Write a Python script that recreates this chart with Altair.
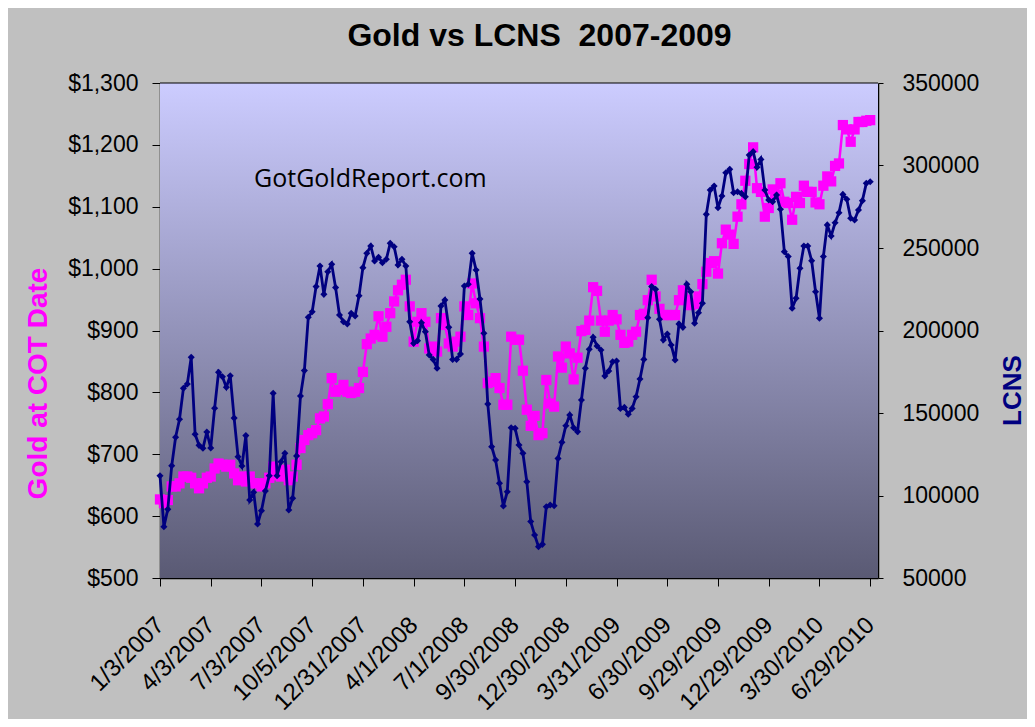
import altair as alt
import pandas as pd

# ---- data -----------------------------------------------------------------
x_labels = ["1/3/2007", "4/3/2007", "7/3/2007", "10/5/2007", "12/31/2007",
            "4/1/2008", "7/1/2008", "9/30/2008", "12/30/2008", "3/31/2009",
            "6/30/2009", "9/29/2009", "12/29/2009", "3/30/2010", "6/29/2010"]

gold = [
    627, 621, 626, 648, 648, 653, 664, 664, 662, 653,
    645, 653, 662, 664, 677, 685, 683, 680, 683, 669,
    658, 664, 656, 664, 653, 653, 648, 653, 662, 680,
    666, 664, 675, 658, 664, 683, 710, 723, 731, 734,
    739, 758, 761, 781, 823, 801, 804, 812, 801, 799,
    801, 807, 833, 878, 887, 893, 923, 890, 906, 928,
    947, 965, 974, 982, 939, 882, 914, 928, 914, 871,
    874, 866, 920, 909, 879, 874, 882, 890, 939, 925,
    976, 944, 920, 874, 815, 817, 823, 807, 780, 780,
    890, 885, 885, 835, 772, 746, 762, 731, 734, 820,
    782, 777, 858, 840, 874, 863, 821, 856, 899, 901,
    916, 970, 964, 916, 898, 916, 925, 918, 893, 880,
    882, 893, 898, 925, 927, 949, 982, 955, 935, 925,
    925, 925, 925, 949, 965, 950, 941, 943, 955, 975,
    995, 1009, 1012, 992, 1041, 1063, 1055, 1040, 1084, 1104,
    1142, 1169, 1196, 1130, 1124, 1084, 1098, 1128, 1119, 1138,
    1108, 1106, 1079, 1116, 1106, 1134, 1124, 1124, 1107, 1104,
    1134, 1149, 1141, 1166, 1170, 1232, 1225, 1205, 1225, 1237,
    1237, 1239, 1240,
]

lcns = [
    112000, 81100, 91600, 118000, 135300, 146200, 165000, 167600, 183800, 137100,
    130400, 128600, 138500, 128800, 152900, 174700, 172000, 165600, 172600, 146900,
    123500, 117900, 136300, 97300, 101900, 82700, 90800, 102700, 112000, 162000,
    112000, 120500, 125600, 91200, 98300, 124000, 160300, 175700, 208000, 211400,
    226600, 239100, 221900, 235600, 240100, 226000, 209400, 205300, 204000, 210400,
    208800, 221100, 238100, 246800, 251200, 242100, 244400, 241100, 243200, 252900,
    250800, 239700, 243200, 239100, 205300, 192200, 193800, 204700, 199300, 185100,
    182500, 177100, 214800, 218500, 201900, 182500, 182500, 185800, 227000, 228000,
    246800, 236700, 219100, 198300, 155500, 129600, 121500, 107400, 93600, 102300,
    141100, 140700, 130600, 125600, 108400, 84200, 76100, 69000, 70400, 93200,
    94200, 93800, 122500, 132200, 142300, 148800, 141100, 138700, 157900, 177100,
    188600, 195900, 190600, 188200, 172400, 175500, 181100, 181500, 152800, 153400,
    149200, 152800, 159900, 170600, 182500, 207800, 226600, 225000, 206800, 194200,
    197900, 191200, 182100, 204000, 201900, 228000, 223500, 204400, 210800, 216500,
    270400, 285100, 287600, 274400, 281500, 295600, 297700, 283500, 284100, 283100,
    281100, 306400, 308400, 298900, 303700, 285100, 279100, 278100, 282100, 273500,
    247800, 244800, 213500, 219500, 237700, 251200, 251200, 242300, 223500, 207400,
    244800, 264000, 257300, 265300, 271400, 282500, 279500, 268000, 267000, 273000,
    278700, 289200, 290200,
]

gold_ticks = [500, 600, 700, 800, 900, 1000, 1100, 1200, 1300]
lcns_ticks = [50000, 100000, 150000, 200000, 250000, 300000, 350000]

chart_title = "Gold vs LCNS\u00a0 2007-2009"
site_text = "GotGoldReport.com"

# ---- chart -----------------------------------------------------------------
W, H = 718, 495
FONT = "Liberation Sans"
PINK = "#FF00FF"
NAVY = "#000080"

df = pd.DataFrame({"week": list(range(len(gold))), "gold": gold, "lcns": lcns})
one = pd.DataFrame({"v": [0]})

label_expr = "[" + ",".join("'%s'" % s for s in x_labels) + "][round(datum.value / 13)]"

x_enc = alt.X(
    "week:Q",
    scale=alt.Scale(domain=[0, 184], nice=False, zero=False),
    axis=alt.Axis(
        values=[13 * i for i in range(len(x_labels))],
        labelExpr=label_expr, labelAngle=315, labelAlign="right",
        labelBaseline="middle", labelPadding=35, labelFontSize=24,
        labelOverlap=False, labelFlush=False, labelBound=False,
        tickSize=8, tickColor="black", domainColor="black", domainWidth=1.5,
        title=None, grid=False, labelColor="black", labelFont=FONT,
    ),
)

y_gold = alt.Y(
    "gold:Q",
    scale=alt.Scale(domain=[500, 1300], nice=False, zero=False),
    axis=alt.Axis(
        orient="left", values=gold_ticks, format="$,.0f",
        labelFontSize=23, labelPadding=14, labelFont=FONT, labelColor="black",
        tickSize=8, tickColor="black", domainColor="black", domainWidth=1.5,
        grid=False, title="Gold at COT Date", titleColor=PINK, titleFont=FONT,
        titleFontSize=28, titleFontWeight="bold", titleAngle=270,
        titleX=-122, titleY=300, titleAlign="center", titleBaseline="middle",
    ),
)

y_lcns = alt.Y(
    "lcns:Q",
    scale=alt.Scale(domain=[50000, 350000], nice=False, zero=False),
    axis=alt.Axis(
        orient="right", values=lcns_ticks, format="d",
        labelFontSize=23, labelPadding=19, labelFont=FONT, labelColor="black",
        tickSize=5, tickColor="black", domainColor="black", domainWidth=1.5,
        grid=False, title="LCNS", titleColor=NAVY, titleFont=FONT,
        titleFontSize=26, titleFontWeight="bold", titleAngle=270,
        titleX=134, titleY=307, titleAlign="center", titleBaseline="middle",
    ),
)

gradient = alt.LinearGradient(
    gradient="linear",
    stops=[alt.GradientStop(color="#CCCCFF", offset=0),
           alt.GradientStop(color="#5A5A74", offset=1)],
    x1=0, x2=0, y1=0, y2=1,
)

bg = alt.Chart(one).mark_rect(color=gradient).encode(
    x=alt.value(0), x2=alt.value(W), y=alt.value(0), y2=alt.value(H))

top_rule = alt.Chart(one).mark_rule(color="black", strokeWidth=1.2).encode(
    x=alt.value(0), x2=alt.value(W), y=alt.value(0))

base = alt.Chart(df)
gold_line = base.mark_line(color=PINK, strokeWidth=2.5).encode(x=x_enc, y=y_gold)
gold_pts = base.mark_point(shape="square", filled=True, size=105, color=PINK,
                           opacity=1).encode(x=x_enc, y=y_gold)
lcns_line = base.mark_line(color=NAVY, strokeWidth=2.8).encode(x=x_enc, y=y_lcns)
lcns_pts = base.mark_point(shape="diamond", filled=True, size=50, color=NAVY,
                           opacity=1).encode(x=x_enc, y=y_lcns)

site = alt.Chart(pd.DataFrame({"t": [site_text]})).mark_text(
    align="left", baseline="alphabetic", font="Open Sans", fontSize=25,
    color="black").encode(x=alt.value(94), y=alt.value(104), text="t:N")

title = alt.Chart(pd.DataFrame({"t": [chart_title]})).mark_text(
    align="center", baseline="alphabetic", font=FONT, fontSize=32,
    fontWeight="bold", color="black").encode(
    x=alt.value(379.5), y=alt.value(-37), text="t:N")

chart = alt.layer(
    bg, top_rule,
    alt.layer(gold_line, gold_pts),
    alt.layer(lcns_line, lcns_pts),
    site, title,
).resolve_scale(y="independent").properties(
    width=W, height=H, autosize="none",
    padding={"left": 152, "top": 75, "right": 149, "bottom": 141},
).configure(background="#C0C0C0").configure_view(stroke=None)

chart.save("out.html", embed_options={"renderer": "svg", "actions": False})
